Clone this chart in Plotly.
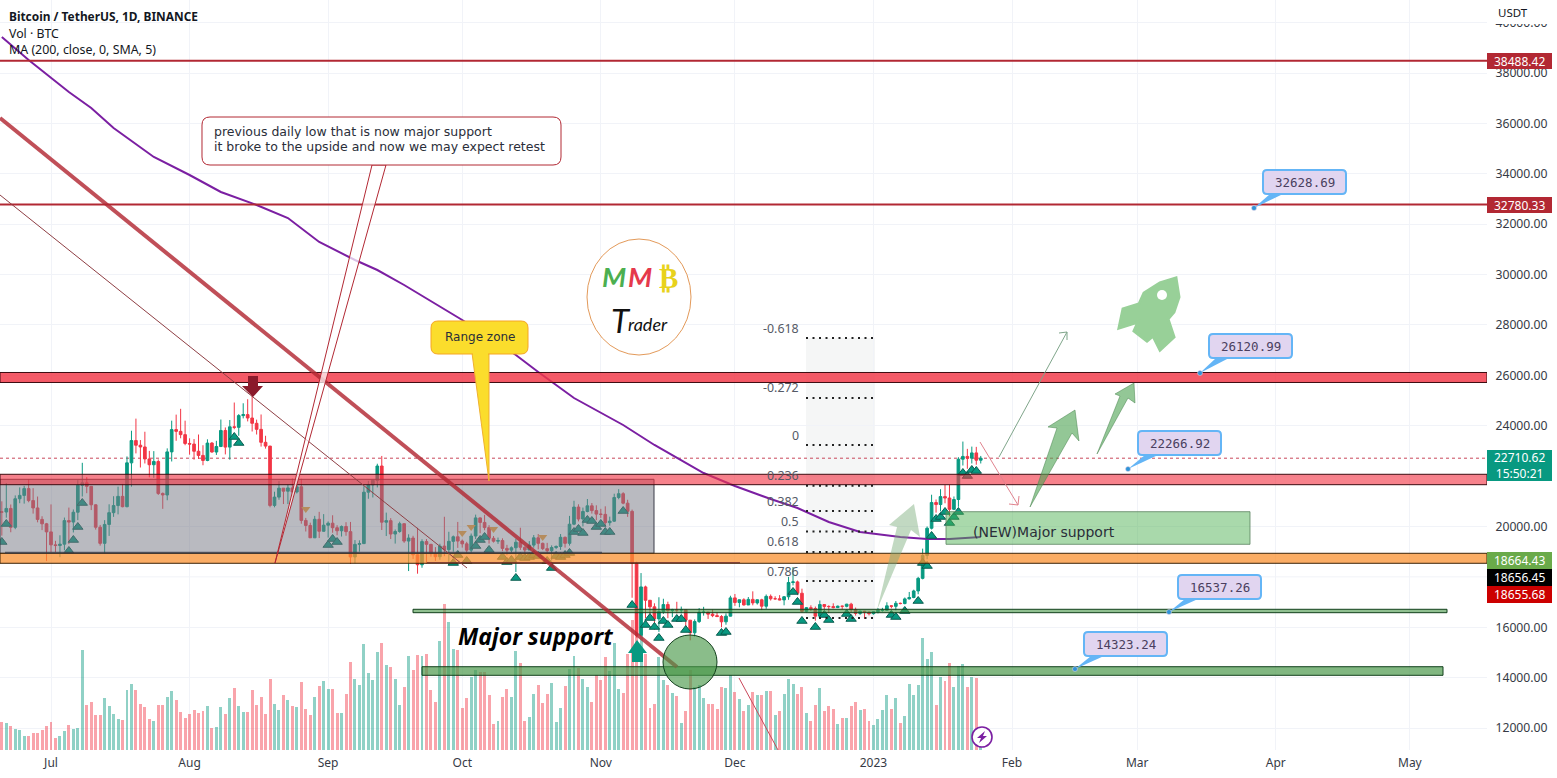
import pandas as pd
import plotly.graph_objects as go

# ---------------- data ----------------
first_day = "2022-06-20"
opens = [20574,20573,20716,19965,21100,21233,21502,21027,20735,20280,20105,
 19785,19270,19243,19297,20232,20175,20565,21636,21732,21593,20860,19970,19330,20080,20548,20830,21195,20785,22525,23410,23225,23155,22680,22450,22580,21310,21250,22960,23845,23775,23645,
 23295,23270,22985,22820,22620,23310,22955,23175,23810,23150,23955,23935,24400,24440,24305,24095,23855,23340,23190,20835,21165,21520,21400,21530,21370,21575,20240,20040,19550,20285,19810,
 20050,20130,19950,19830,20000,19795,18790,19290,19320,21360,21650,21830,22400,20170,20230,19700,19800,20110,19420,19540,18875,18480,19400,19290,18920,18800,19220,19080,19410,19590,
 19420,19310,19060,19620,20340,20160,19955,19530,19415,19440,19130,19060,19155,19375,19175,19065,19260,19550,19330,19120,19040,19165,19205,19570,19330,20090,20770,20295,20595,20820,20630,
 20490,20480,20150,20210,21150,21300,20925,20600,18540,15680,17600,17070,16810,16330,16620,16900,16660,16690,16680,16700,16280,15780,16225,16600,16600,16520,16460,16425,16215,16440,
 17165,16980,17090,16885,17105,16965,17090,16835,17225,17130,17130,17085,17210,17775,17800,17350,16630,16775,16740,16440,16900,16825,16820,16780,16835,16830,16915,16705,16550,16635,16600,
 16540,16615,16670,16675,16850,16830,16950,16940,17125,17180,17440,17940,18850,19930,20950,20870,21185,21130,20680,21070,22670,22780,22710,22920,22630]
highs = [20998,21723,20873,21233,21550,21614,21868,21520,21188,20405,20141,
 20876,19430,19650,20354,20750,20675,21840,22527,21955,21600,20880,20060,20250,20880,21200,21580,21690,22780,23800,24280,23430,23760,23000,22990,22660,21350,23100,24200,24440,24670,24200,
 23500,23470,23650,23225,23460,23350,23400,24245,23930,24225,24920,24460,24890,25050,25210,24240,24445,23600,23200,21380,21800,21520,21670,21900,21820,21890,20340,20150,20420,20580,20490,
 20200,20445,20050,20040,20170,20180,19460,19450,21600,21810,21840,22490,22800,20550,20330,19880,20190,20100,19690,19630,19950,19490,19500,19310,19180,19315,20385,19790,19640,20180,
 19480,19390,19720,20470,20360,20460,20050,19620,19560,19530,19270,19210,19510,19950,19210,19420,19660,19700,19360,19350,19250,19250,19700,19600,20420,21020,20880,20750,21090,20930,20840,
 20700,20800,20390,21300,21480,21360,21060,20670,18600,18150,17650,17070,16950,17190,17130,17015,16730,17010,16820,16700,16280,16310,16760,16810,16610,16700,16600,16480,16550,17250,
 17320,17100,17150,17200,17425,17100,17130,17300,17300,17230,17275,17240,18000,18390,17850,17530,16800,16870,16820,17060,16920,16870,16950,16860,16860,16930,16970,16780,16660,16650,16630,
 16630,16760,16770,16990,16880,17040,16980,17180,17400,17490,18000,19120,20000,21260,21070,21480,21650,21650,21190,22750,23370,23080,23170,23160,22800]
lows = [19637,20348,19770,19890,20922,20906,20960,20510,20164,19854,18626,
 18975,18975,18781,19055,19300,19761,20250,21189,21320,20650,19875,19240,18910,19625,20380,20480,20760,20760,21580,22900,22340,22500,21950,21930,21250,20700,21040,22580,23400,23500,23225,
 22850,22650,22680,22430,22590,22930,22840,23150,22860,22650,23860,23600,24290,24170,23770,23650,23170,23090,20760,20760,21060,20890,20890,21150,21310,20110,19800,19600,19540,19540,19790,
 19560,19750,19650,19600,19630,18510,18540,19000,19300,21100,21150,21550,19860,19620,19500,19320,19750,19350,18230,18710,18125,18360,18530,18800,18630,18680,18820,18470,19000,19150,
 19160,18920,18960,19500,19730,19850,19320,19360,19310,19020,18860,18965,18190,19070,18950,19065,19160,19090,19060,18900,18650,19100,19070,19160,19240,20050,20200,20000,20560,20510,20250,
 20340,20060,20030,20180,21080,20880,20380,17170,15590,15750,16360,16530,15900,15815,16530,16360,16400,16550,16550,15990,15480,15630,16170,16460,16330,16400,16400,16000,16100,16430,
 16850,16790,16860,16880,16870,16900,16680,16730,17060,17090,17070,16870,17090,17660,17275,16570,16580,16650,16260,16400,16700,16560,16750,16760,16700,16790,16590,16460,16490,16330,16470,
 16500,16550,16620,16650,16750,16670,16910,16910,17100,17150,17310,17900,18700,19880,20550,20600,20920,20400,20650,20780,22420,22290,22500,22450,22500]
closes = [20573,20716,19965,21100,21233,21502,21027,20735,20280,20105,19785,
 19270,19243,19297,20232,20175,20565,21636,21732,21593,20860,19970,19330,20080,20548,20830,21195,20785,22525,23410,23225,23155,22680,22450,22580,21310,21250,22960,23845,23775,23645,23295,
 23270,22985,22820,22620,23310,22955,23175,23810,23150,23955,23935,24400,24440,24305,24095,23855,23340,23190,20835,21165,21520,21400,21530,21370,21575,20240,20040,19550,20285,19810,20050,
 20130,19950,19830,20000,19795,18790,19290,19320,21360,21650,21830,22400,20170,20230,19700,19800,20110,19420,19540,18875,18480,19400,19290,18920,18800,19220,19080,19410,19590,19420,
 19310,19060,19620,20340,20160,19955,19530,19415,19440,19130,19060,19155,19375,19175,19065,19260,19550,19330,19120,19040,19165,19205,19570,19330,20090,20770,20295,20595,20820,20630,20490,
 20480,20150,20210,21150,21300,20925,20600,18540,15680,17600,17070,16810,16330,16620,16900,16660,16690,16680,16700,16280,15780,16225,16600,16600,16520,16460,16425,16215,16440,17165,
 16980,17090,16885,17105,16965,17090,16835,17225,17130,17130,17085,17210,17775,17800,17350,16630,16775,16740,16440,16900,16825,16820,16780,16835,16830,16915,16705,16550,16635,16600,16540,
 16615,16670,16675,16850,16830,16950,16940,17125,17180,17440,17940,18850,19930,20950,20870,21185,21130,20680,21070,22670,22780,22710,22920,22630,22710]
volumes = [84,80,71,63,60,42,42,50,51,60,71,84,37,42,57,74,63,66,300,135,143,105,105,157,132,108,94,90,180,198,180,138,129,93,87,135,135,159,177,150,
 114,96,108,120,111,117,132,66,69,129,108,156,186,132,114,114,180,135,159,108,213,138,120,165,150,132,129,204,123,105,159,192,207,183,183,111,111,168,264,213,
 195,318,231,210,294,321,255,249,213,135,189,282,240,285,282,288,180,144,327,438,384,303,300,126,156,219,240,234,234,165,78,87,
 159,183,159,297,261,87,99,168,195,141,168,201,84,126,192,243,282,246,213,189,144,225,210,279,237,320,183,171,288,390,420,380,288,126,138,280,210,195,171,162,
 81,117,240,189,195,156,138,138,123,189,186,225,174,153,117,135,174,165,165,177,177,105,117,168,213,198,168,189,111,87,135,186,117,132,123,78,96,96,132,144,
 120,123,87,75,93,120,165,123,156,81,102,198,165,195,336,273,294,135,219,207,261,189,252,258,189,219,216,15]
ma_dates = ["2022-06-20","2022-06-26","2022-07-05","2022-07-10","2022-07-15","2022-07-24","2022-08-01","2022-08-08","2022-08-16","2022-08-23","2022-08-30",
            "2022-09-07","2022-09-12","2022-09-18","2022-10-01","2022-10-13","2022-10-18","2022-10-26","2022-11-06","2022-11-13","2022-11-24","2022-12-01","2022-12-09",
            "2022-12-15","2022-12-22","2022-12-29","2023-01-07","2023-01-13","2023-01-18","2023-01-25"]
ma_values = [39429,38516,37246,36611,35817,34666,33951,33277,32760,32244,31292,30577,30180,29585,28196,26806,26131,25099,24028,23234,22122,21606,21090,20733,20177,19780,19582,19502,19502,19582]
up_idx = [0,1,18,17,16,15,52,53,73,74,75,101,102,104,106,107,108,109,112,113,114,115,116,117,118,119,120,122,123,124,125,126,127,128,129,130,131,132,133,134,135,136,139,141,145,144,146,147,148,149,151,152,153,161,162,177,178,179,182,184,185,189,190,199,200,202,205,206,207,208,209,210,211,212,213,214,215,216,217,218]
up_price = [19383,20098,20931,19979,19463,19026,23551,23313,19264,19502,19383,18550,18867,18629,19224,19463,19582,19066,18788,18589,18669,17954,18788,18748,18788,18867,18828,18629,18351,18828,18788,18867,18947,19780,19899,19741,20257,20217,19979,20098,19780,19780,20614,16882,16366,16089,16009,15573,16247,16089,16327,16327,15890,15771,15811,17399,17002,16247,16009,16486,16287,16525,16327,16486,16406,16644,17041,18550,18431,19621,20296,20376,20574,20137,20376,20574,22122,22003,22241,22202]
down_idx = [68,103,105,110,121]
down_price = [20693,19741,19979,19899,19582]
months = ["2022-07-01","2022-08-01","2022-09-01","2022-10-01","2022-11-01","2022-12-01","2023-01-01","2023-02-01","2023-03-01","2023-04-01","2023-05-01"]
month_labels = ["Jul","Aug","Sep","Oct","Nov","Dec","2023","Feb","Mar","Apr","May"]
price_ticks = [12000,14000,16000,20000,24000,26000,28000,30000,32000,34000,36000,38000,40000]
hidden_grid_prices = [18000,22000]
fib_labels = ["-0.618","-0.272","0","0.236","0.382","0.5","0.618","0.786"]
fib_prices = [27477,25101,23233,21612,20610,19800,18989,17835,16366]
callout_texts = ["32628.69","26120.99","22266.92","16537.26","14323.24"]

PW, PH = 1487, 750
UP, DOWN = "#089981", "#f23645"
GRID = "#f1f3f8"
dates = pd.date_range(first_day, periods=len(closes))
vol_colors = ["rgba(8,153,129,0.45)" if c >= o else "rgba(242,54,69,0.45)" for o, c in zip(opens, closes)]

def date_at(x):
    return pd.Timestamp("2022-07-01") + pd.Timedelta(days=(x - 51) / 4.47)
def price_at(y):
    return 12000 + 39.695 * (728 - y)
def fx(x): return x / PW
def fy(y): return 1 - y / PH

shapes, notes = [], []

def poly(points, fill, line="rgba(0,0,0,0)", width=0, close=True):
    d = "M " + " L ".join(f"{fx(a):.5f},{fy(b):.5f}" for a, b in points) + (" Z" if close else "")
    shapes.append(dict(type="path", path=d, xref="paper", yref="paper", fillcolor=fill,
                       line=dict(color=line, width=width), layer="above"))

def round_rect(x0, y0, x1, y1, r, fill, line, width):
    P = lambda a, b: f"{fx(a):.5f},{fy(b):.5f}"
    d = (f"M {P(x0+r,y0)} L {P(x1-r,y0)} Q {P(x1,y0)} {P(x1,y0+r)} L {P(x1,y1-r)} Q {P(x1,y1)} {P(x1-r,y1)} "
         f"L {P(x0+r,y1)} Q {P(x0,y1)} {P(x0,y1-r)} L {P(x0,y0+r)} Q {P(x0,y0)} {P(x0+r,y0)} Z")
    shapes.append(dict(type="path", path=d, xref="paper", yref="paper", fillcolor=fill,
                       line=dict(color=line, width=width), layer="above"))

def seg(x0, y0, x1, y1, color, width, dash="solid"):
    shapes.append(dict(type="line", xref="paper", yref="paper", x0=fx(x0), y0=fy(y0), x1=fx(x1), y1=fy(y1),
                       line=dict(color=color, width=width, dash=dash), layer="above"))

def circle(x0, y0, x1, y1, fill, line, width):
    shapes.append(dict(type="circle", xref="paper", yref="paper", x0=fx(x0), y0=fy(y0), x1=fx(x1), y1=fy(y1),
                       fillcolor=fill, line=dict(color=line, width=width), layer="above"))

def zone(x0, x1, p0, p1, fill, line="#3d0c11", width=1):
    shapes.append(dict(type="rect", xref="x", yref="y2", x0=date_at(x0), x1=date_at(x1), y0=p0, y1=p1,
                       fillcolor=fill, line=dict(color=line, width=width), layer="above"))

def level(x0, x1, price, color, width, dash="solid", layer="above"):
    shapes.append(dict(type="line", xref="x", yref="y2", x0=date_at(x0), x1=date_at(x1), y0=price, y1=price,
                       line=dict(color=color, width=width, dash=dash), layer=layer))

def text(x, y, s, size=12, color="#131722", family="Noto Sans", anchor="left", **kw):
    notes.append(dict(xref="paper", yref="paper", x=fx(x), y=fy(y), text=s, showarrow=False, xanchor=anchor,
                      yanchor="middle", font=dict(size=size, color=color, family=family), borderpad=0, **kw))

def label(y0, y1, bg, s, size=12, color="#ffffff"):
    shapes.append(dict(type="rect", xref="paper", yref="paper", x0=1, x1=fx(1552), y0=fy(y0), y1=fy(y1),
                       fillcolor=bg, line=dict(width=0), layer="above"))
    text(1519.5, (y0 + y1) / 2, s, size=size, color=color, anchor="center")

# grid rows whose tick labels sit under the price tags
for p in hidden_grid_prices:
    level(0, PW, p, GRID, 1, "solid", "below")

# fib backdrop (under the candles)
shapes.append(dict(type="rect", xref="x", yref="y2", x0=date_at(806), x1=date_at(875), y0=fib_prices[-1], y1=fib_prices[0],
                   fillcolor="rgba(120,123,134,0.07)", line=dict(width=0), layer="below"))
level(0, PW, closes[-1], "#c9475a", 1, "dot", "below")

# horizontal levels and zones
level(0, PW, 38488.42, "#b22833", 2)
level(0, PW, 32780.33, "#b22833", 2)
zone(0, 654, 18935, 21872, "rgba(120,123,134,0.52)", "#3a3d48")
zone(0, PW, 25715, 26112, "rgba(242,54,69,0.82)")
zone(0, PW, 21658, 22071, "rgba(242,54,69,0.62)")
zone(0, PW, 18538, 18935, "rgba(250,145,50,0.75)", "#3d2408")
zone(413, 1447, 16577, 16712, "rgba(76,153,76,0.62)", "#12401c")
zone(422, 1443, 14092, 14433, "rgba(76,153,76,0.7)", "#12401c")
level(5, 602, 18960, "rgba(60,62,72,0.75)", 2)
level(427, 740, 18560, "#6b2a2a", 1)
zone(946, 1250, 19292, 20586, "rgba(76,175,80,0.48)", "rgba(90,130,95,0.8)")

# fib dotted levels
for p in fib_prices:
    level(806, 875, p, "#222222", 2, "2px,4.5px")
for s, p in zip(fib_labels, fib_prices):
    notes.append(dict(xref="x", yref="y2", x=date_at(800.5), y=p, yshift=10, text=s, showarrow=False, xanchor="right",
                      yanchor="middle", font=dict(size=12.4, color="#555a66", family="Noto Sans")))

# diagonals
seg(0, 195, 467, 568, "#8e3f44", 1)
seg(0, 118, 677, 667, "rgba(178,40,51,0.82)", 4)
seg(739, 678, 778, 750, "#c9475a", 1)

# comment bubble
poly([(372, 165), (386, 165), (275, 563)], "rgba(255,255,255,0.72)", "#b22833", 1)
round_rect(202, 117, 561, 165, 8, "#ffffff", "#b22833", 1)
text(213, 132, "previous daily low that is now major support", size=12.5, family="DejaVu Sans", color="#2a2e39")
text(213, 147, "it broke to the upside and now we may expect retest", size=12.5, family="DejaVu Sans", color="#2a2e39")

# yellow bubble
poly([(472, 353), (489, 353), (489, 481)], "#fbdd2c", "#f0b030", 1)
round_rect(431, 321, 528, 354, 7, "#fbdd2c", "#f5a623", 1)
shapes.append(dict(type="line", xref="paper", yref="paper", x0=fx(473), x1=fx(488), y0=fy(354), y1=fy(354),
                   line=dict(color="#fbdd2c", width=2), layer="above"))
text(479.5, 337.5, "Range zone", size=12, family="DejaVu Sans", color="#2a2e39", anchor="center")

# big arrows
poly([(248, 376), (258, 376), (258, 386), (263, 386), (253, 397), (242, 386), (248, 386)], "#8b1a2b")
poly([(637, 640), (647, 653), (643, 653), (643, 662), (632, 662), (632, 653), (628, 653)], UP)
poly([(877, 610), (897, 527), (889, 525), (914, 504), (920, 537), (911, 530)], "rgba(120,170,120,0.45)")
poly([(1030, 507), (1057, 428), (1048, 427), (1075, 410), (1079, 441), (1072, 433)], "rgba(80,165,85,0.62)", "rgba(70,130,75,0.5)", 1)
poly([(1097, 454), (1120, 396), (1115, 394), (1134, 383), (1135, 403), (1128, 398)], "rgba(80,165,85,0.62)", "rgba(70,130,75,0.5)", 1)
seg(999, 457, 1067, 332, "#7fa58a", 1)
seg(1067, 332, 1059, 333, "#7fa58a", 1)
seg(1067, 332, 1067, 340, "#7fa58a", 1)
seg(980, 442, 1018, 505, "#e0838e", 1)
seg(1018, 505, 1009, 504, "#e0838e", 1)
seg(1018, 505, 1019, 496, "#e0838e", 1)

# green circle
circle(663, 635, 717, 689, "rgba(76,153,76,0.65)", "#12401c", 1)

# rocket
poly([(1176, 278), (1179, 297), (1174, 312), (1168, 319), (1174, 337), (1160, 350), (1153, 336), (1147, 341), (1134, 331), (1138, 322),
      (1119, 328), (1123, 309), (1139, 304), (1144, 293), (1160, 283)], "#98d098", "#98d098", 3)
circle(1157, 290, 1167, 300, "#ffffff", "#ffffff", 0)

# logo
circle(587, 239, 691, 355, "#ffffff", "#e39a5a", 1)
text(614, 277, "<b><i>M</i></b>", size=27.5, color="#4caf50", anchor="center", family="Lato")
text(640, 277, "<b><i>M</i></b>", size=27.5, color="#e5394b", anchor="center", family="Lato")
text(668, 278, "<b>₿</b>", size=29, color="#e8d21c", anchor="center", family="DejaVu Sans")
text(621, 320, "<i>T</i>", size=33, color="#111111", anchor="center", family="Lato")
text(648, 324, "<i>rader</i>", size=18, color="#111111", anchor="center", family="Lato")

# blue price callouts
boxes = [(1263, 170, 1254, 208), (1209, 334, 1200, 373), (1138, 431, 1128, 469), (1178, 575, 1169, 612), (1084, 632, 1075, 669)]
for s, (bx, by, dx, dy) in zip(callout_texts, boxes):
    poly([(bx + 7, by + 24), (bx + 20, by + 24), (dx, dy)], "#64b5f6")
    round_rect(bx, by, bx + 83, by + 24, 4, "#e1d5f0", "#64b5f6", 2)
    text(bx + 41.5, by + 12, s, size=12.5, family="DejaVu Sans Mono", color="#4a3f5f", anchor="center")
    circle(dx - 2.5, dy - 2.5, dx + 2.5, dy + 2.5, "#2f93d8", "#f4d9e4", 0.5)

# lightning badge
circle(972, 727, 992, 747, "#ffffff", "#7b1fa2", 1.6)
poly([(985, 731), (977, 738), (981, 738), (979, 743), (987, 736), (983, 736)], "#7b1fa2")

# texts
text(972, 531.5, "(NEW)Major support", size=14, color="#2a2e39", family="DejaVu Sans")
text(457, 636, "<b><i>Major support</i></b>", size=23, color="#000000", family="Noto Sans")
text(7.5, 16, "<b>Bitcoin / TetherUS, 1D, BINANCE</b>", size=11.9)
text(8, 33, "Vol · BTC", size=12.3)
text(8, 50, "MA (200, close, 0, SMA, 5)", size=12.4)

# masks the upper part of the topmost tick label, as the scale title does
shapes.append(dict(type="rect", xref="paper", yref="paper", x0=1, x1=fx(1557), y0=fy(0), y1=fy(24),
                   fillcolor="#ffffff", line=dict(width=0), layer="above"))
text(1497, 13, "USDT", size=11.5)

# price scale labels
label(53, 69, "#b22833", "38488.42")
label(197, 213, "#b22833", "32780.33")
label(450, 481, UP, "22710.62<br>15:50:21")
label(552, 569, "#6aaa4a", "18664.43")
label(569, 586, "#000000", "18656.45")
label(586, 603, "#cc0000", "18655.68")

fig = go.Figure()
fig.add_trace(go.Bar(x=dates, y=volumes, yaxis="y", width=0.66 * 86400000, hoverinfo="skip", showlegend=False,
                     marker=dict(color=vol_colors, line=dict(width=0))))
fig.add_trace(go.Candlestick(x=dates, open=opens, high=highs, low=lows, close=closes, yaxis="y2", xaxis="x", showlegend=False, hoverinfo="skip",
                             whiskerwidth=0,
                             increasing=dict(line=dict(color=UP, width=1), fillcolor=UP),
                             decreasing=dict(line=dict(color=DOWN, width=1), fillcolor=DOWN)))
fig.add_trace(go.Scatter(x=ma_dates, y=ma_values, yaxis="y2", mode="lines", line=dict(color="#7b1fa2", width=2),
                         hoverinfo="skip", showlegend=False))
fig.add_trace(go.Scatter(x=[dates[i] for i in up_idx], y=up_price, yaxis="y2", mode="markers", hoverinfo="skip", showlegend=False,
                         marker=dict(symbol="triangle-up", size=9, color=UP, line=dict(color="#0b5d50", width=1))))
fig.add_trace(go.Scatter(x=[dates[i] for i in down_idx], y=down_price, yaxis="y2", mode="markers", hoverinfo="skip", showlegend=False,
                         marker=dict(symbol="triangle-down", size=8, color="#f7a030", line=dict(width=0))))

fig.update_layout(
    width=1557, height=778, autosize=False,
    margin=dict(l=0, r=70, t=0, b=28, pad=0),
    paper_bgcolor="#ffffff", plot_bgcolor="#ffffff",
    font=dict(family="Noto Sans", size=12, color="#131722"),
    bargap=0, boxgap=0.15, hovermode=False, shapes=shapes, annotations=notes,
    xaxis=dict(type="date", range=[date_at(0), date_at(PW)], tickvals=months, ticktext=month_labels, ticks="outside", ticklen=2,
               tickcolor="rgba(0,0,0,0)", showline=False,
               showgrid=True, gridcolor=GRID, gridwidth=1, zeroline=False, rangeslider=dict(visible=False),
               tickfont=dict(size=12, color="#363a45"), tickangle=0),
    yaxis=dict(range=[0, 2250], visible=False, showgrid=False, zeroline=False, fixedrange=True),
    yaxis2=dict(range=[price_at(PH), price_at(0)], overlaying="y", side="right", tickvals=price_ticks, tickformat=".2f",
                ticks="outside", ticklen=5, tickcolor="rgba(0,0,0,0)", showline=False, showgrid=True, gridcolor=GRID, gridwidth=1, zeroline=False,
                tickfont=dict(size=12.2, color="#363a45")),
)

fig.write_html("out.html", config={"displayModeBar": False}, post_script="document.body.style.margin='0';document.body.style.overflow='hidden';")
